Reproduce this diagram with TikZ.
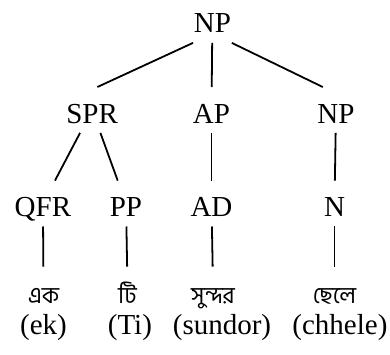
\documentclass[tikz,border=0pt]{standalone}
\usepackage{fontspec}
\setmainfont{Liberation Serif}
\newfontfamily\bangla[Script=Bengali]{Hind Siliguri}
\usetikzlibrary{positioning}

\begin{document}
\begin{tikzpicture}[line width=1.7pt, cat/.style={anchor=base, inner sep=0pt, text height=1.17cm, text depth=0.3cm, font=\fontsize{27.5}{33}\selectfont}, word/.style={cat, text height=1.2cm, text depth=0.05cm, font=\bangla\fontsize{22}{26}\selectfont}, gloss/.style={anchor=base, inner sep=0pt, font=\fontsize{27.5}{33}\selectfont}]
	\useasboundingbox (0,0) rectangle (13,11.8);
	% categories
	\node[cat] (NP) at (7.08,10.7) {NP};
	\node[cat] (SPR) at (3.07,7.7) {SPR};
	\node[cat] (AP) at (7.05,7.7) {AP};
	\node[cat] (NPr) at (11.2,7.7) {NP};
	\node[cat] (QFR) at (1.43,4.58) {QFR};
	\node[cat] (PP) at (4.2,4.58) {PP};
	\node[cat] (AD) at (7.05,4.58) {AD};
	\node[cat] (N) at (11.15,4.58) {N};
	% words and their readings
	\node[word] (ek) at (1.45,1.68) {এক};
	\node[word] (Ti) at (4.25,1.68) {টি};
	\node[word] (sundor) at (7.1,1.68) {সুন্দর};
	\node[word] (chhele) at (11.15,1.68) {ছেলে};
	\node[gloss] (ekr) at (1.45,0.66) {(ek)};
	\node[gloss] (Tir) at (4.33,0.66) {(Ti)};
	\node[gloss] (sundorr) at (7.4,0.66) {(sundor)};
	\node[gloss] (chheler) at (11.33,0.66) {(chhele)};
	% branches
	\draw (NP.south west) -- (SPR.77);
	\draw (NP) -- (AP);
	\draw (NP.south east) -- (NPr.120);
	\draw (SPR) -- (QFR);
	\draw (SPR) -- (PP);
	\draw (AP) -- (AD);
	\draw (NPr) -- (N);
	\draw (QFR) -- (ek);
	\draw (PP) -- (Ti);
	\draw (AD) -- (sundor);
	\draw (N) -- (chhele);
\end{tikzpicture}
\end{document}
